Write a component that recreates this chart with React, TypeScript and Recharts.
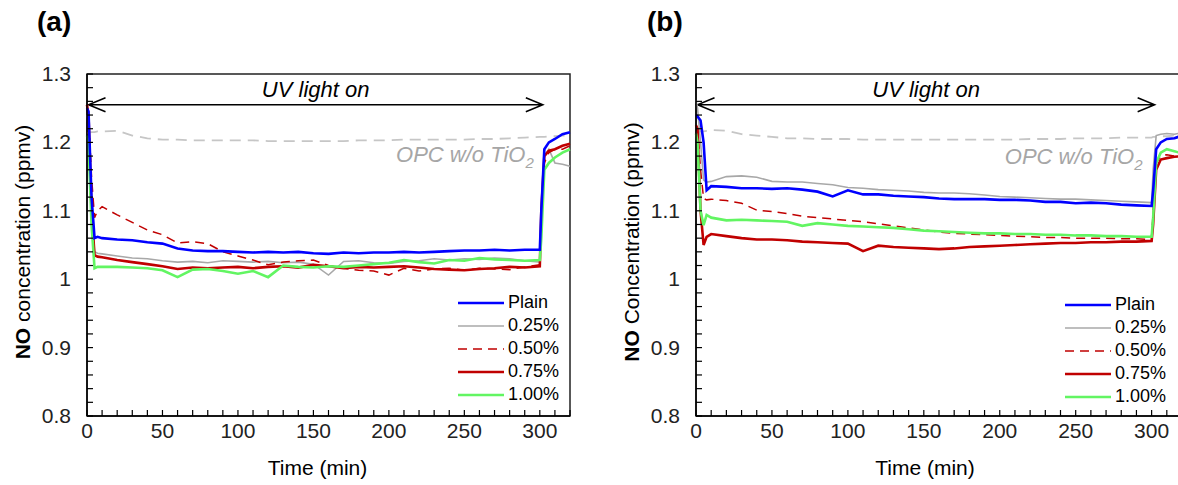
import React from "react";
import {
  LineChart,
  Line,
  XAxis,
  YAxis,
  ReferenceLine,
  ReferenceArea,
  ReferenceDot,
  Legend,
} from "recharts";

const FONT = "Arial, 'Liberation Sans', Helvetica, sans-serif";

// elapsed time (min)
const time = [
  0, 1, 3, 5, 7, 10, 20, 30, 40, 50, 60, 70, 80, 90, 100, 110, 120, 130, 140, 150, 160,
  170, 180, 190, 200, 210, 220, 230, 240, 250, 260, 270, 280, 290, 300, 301, 303, 306,
  310, 315, 320,
];

// panel (a), NO concentration (ppmv)
const plainA = [
  1.25, 1.245, 1.12, 1.06, 1.062, 1.06, 1.058, 1.057, 1.054, 1.052, 1.045, 1.042, 1.041,
  1.041, 1.04, 1.039, 1.04, 1.039, 1.04, 1.038, 1.037, 1.039, 1.038, 1.039, 1.039, 1.04,
  1.039, 1.04, 1.041, 1.042, 1.042, 1.043, 1.042, 1.043, 1.043, 1.1, 1.19, 1.2, 1.205,
  1.212, 1.215,
];
const p25A = [
  1.24, 1.22, 1.1, 1.04, 1.038, 1.037, 1.034, 1.031, 1.03, 1.027, 1.025, 1.026, 1.024,
  1.027, 1.026, 1.025, 1.026, 1.024, 1.025, 1.022, 1.006, 1.026, 1.027, 1.024, 1.023,
  1.026, 1.027, 1.03, 1.028, 1.03, 1.029, 1.031, 1.03, 1.027, 1.025, 1.09, 1.18, 1.19,
  1.17, 1.168, 1.165,
];
const p50A = [
  1.25, 1.24, 1.15, 1.09, 1.1, 1.106, 1.094, 1.083, 1.072, 1.065, 1.053, 1.055, 1.052,
  1.04, 1.034, 1.028, 1.021, 1.025, 1.027, 1.028, 1.02, 1.016, 1.013, 1.012, 1.006, 1.016,
  1.012, 1.015, 1.016, 1.013, 1.016, 1.015, 1.014, 1.018, 1.021, 1.08, 1.17, 1.185, 1.19,
  1.19, 1.195,
];
const p75A = [
  1.255, 1.24, 1.1, 1.035, 1.033, 1.032, 1.028, 1.025, 1.022, 1.019, 1.015, 1.017, 1.016,
  1.017, 1.018, 1.016, 1.018, 1.019, 1.017, 1.021, 1.019, 1.016, 1.018, 1.017, 1.018,
  1.019, 1.017, 1.015, 1.014, 1.013, 1.015, 1.016, 1.018, 1.017, 1.019, 1.1, 1.18, 1.188,
  1.19, 1.195, 1.198,
];
const p100A = [
  1.21, 1.2, 1.08, 1.016, 1.018, 1.018, 1.018, 1.017, 1.016, 1.013, 1.003, 1.014, 1.015,
  1.012, 1.008, 1.012, 1.003, 1.02, 1.018, 1.017, 1.019, 1.018, 1.02, 1.022, 1.024, 1.028,
  1.025, 1.023, 1.028, 1.027, 1.031, 1.029, 1.028, 1.027, 1.028, 1.06, 1.16, 1.17, 1.178,
  1.185, 1.19,
];
const opcA = [
  1.214, 1.214, 1.215, 1.215, 1.216, 1.216, 1.217, 1.21, 1.206, 1.204, 1.204, 1.203,
  1.203, 1.203, 1.203, 1.203, 1.202, 1.202, 1.202, 1.202, 1.202, 1.202, 1.203, 1.203,
  1.203, 1.204, 1.204, 1.204, 1.204, 1.204, 1.205, 1.205, 1.206, 1.207, 1.208, 1.208,
  1.208, 1.209, 1.209, 1.21, 1.21,
];

// panel (b), NO concentration (ppmv)
const plainB = [
  1.24, 1.238, 1.232, 1.2, 1.13, 1.136, 1.135, 1.133, 1.133, 1.132, 1.133, 1.131, 1.128,
  1.121, 1.13, 1.124, 1.124, 1.122, 1.121, 1.12, 1.118, 1.117, 1.117, 1.117, 1.116, 1.116,
  1.115, 1.113, 1.113, 1.111, 1.112, 1.111, 1.109, 1.108, 1.107, 1.13, 1.19, 1.2, 1.205,
  1.206, 1.21,
];
const p25B = [
  1.262, 1.25, 1.2, 1.145, 1.142, 1.143, 1.15, 1.151, 1.149, 1.143, 1.142, 1.142, 1.14,
  1.138, 1.134, 1.133, 1.131, 1.13, 1.129, 1.127, 1.126, 1.126, 1.125, 1.123, 1.121, 1.12,
  1.119, 1.118, 1.117, 1.117, 1.116, 1.115, 1.114, 1.113, 1.112, 1.16, 1.21, 1.212, 1.213,
  1.212, 1.214,
];
const p50B = [
  1.225, 1.22, 1.16, 1.118, 1.116, 1.117, 1.115, 1.111, 1.101, 1.099, 1.096, 1.092, 1.09,
  1.088, 1.086, 1.084, 1.081, 1.078, 1.075, 1.072, 1.069, 1.067, 1.066, 1.065, 1.064,
  1.063, 1.062, 1.061, 1.061, 1.06, 1.06, 1.06, 1.059, 1.059, 1.058, 1.1, 1.17, 1.18,
  1.182, 1.18, 1.18,
];
const p75B = [
  1.225, 1.22, 1.1, 1.05, 1.062, 1.066, 1.063, 1.06, 1.058, 1.058, 1.057, 1.055, 1.054,
  1.053, 1.052, 1.041, 1.049, 1.047, 1.046, 1.045, 1.044, 1.045, 1.047, 1.048, 1.049,
  1.05, 1.051, 1.052, 1.053, 1.053, 1.054, 1.054, 1.055, 1.055, 1.056, 1.08, 1.16, 1.175,
  1.177, 1.179, 1.18,
];
const p100B = [
  1.213, 1.2, 1.1, 1.079, 1.094, 1.09, 1.086, 1.087, 1.086, 1.085, 1.084, 1.078, 1.082,
  1.08, 1.078, 1.077, 1.076, 1.075, 1.073, 1.071, 1.07, 1.069, 1.068, 1.067, 1.067, 1.066,
  1.066, 1.065, 1.065, 1.064, 1.064, 1.063, 1.063, 1.062, 1.062, 1.09, 1.17, 1.185, 1.19,
  1.187, 1.184,
];
const opcB = [
  1.215, 1.215, 1.216, 1.216, 1.217, 1.218, 1.217, 1.212, 1.21, 1.208, 1.206, 1.206,
  1.205, 1.205, 1.205, 1.204, 1.204, 1.204, 1.204, 1.204, 1.204, 1.204, 1.204, 1.204,
  1.204, 1.204, 1.205, 1.205, 1.205, 1.206, 1.206, 1.206, 1.207, 1.207, 1.207, 1.208,
  1.208, 1.209, 1.209, 1.21, 1.21,
];

const xTicks = [
  0, 10, 20, 30, 40, 50, 60, 70, 80, 90, 100, 110, 120, 130, 140, 150, 160, 170, 180, 190,
  200, 210, 220, 230, 240, 250, 260, 270, 280, 290, 300, 310, 320,
];
const xLabels = [0, 50, 100, 150, 200, 250, 300];
const yTicks = Array.from({ length: 26 }, (_, i) => +(0.8 + i * 0.02).toFixed(2));
const yLabels = [0.8, 0.9, 1, 1.1, 1.2, 1.3];

// UV on period (arrow)
const uvStart = 1;
const uvEnd = 302;
const uvLevel = 1.255;

const SERIES = [
  { key: "opc", name: "OPC w/o TiO2", color: "#c6c6c6", width: 1.8, dash: "11 7" },
  { key: "p25", name: "0.25%", color: "#a8a8a8", width: 1.6 },
  { key: "p50", name: "0.50%", color: "#c00000", width: 1.5, dash: "9 6" },
  { key: "p75", name: "0.75%", color: "#c00000", width: 2.6 },
  { key: "p100", name: "1.00%", color: "#62f562", width: 2.6 },
  { key: "plain", name: "Plain", color: "#0000ff", width: 2.6 },
];
const LEGEND_KEYS = ["plain", "p25", "p50", "p75", "p100"];

function rows(plain: number[], p25: number[], p50: number[], p75: number[], p100: number[], opc: number[]) {
  return time.map((t, i) => ({
    t,
    plain: plain[i],
    p25: p25[i],
    p50: p50[i],
    p75: p75[i],
    p100: p100[i],
    opc: opc[i],
  }));
}

const dataA = rows(plainA, p25A, p50A, p75A, p100A, opcA);
const dataB = rows(plainB, p25B, p50B, p75B, p100B, opcB);

function XTick(props: any) {
  const { x, y, payload } = props;
  const v = payload.value;
  return (
    <g>
      <line x1={x} x2={x} y1={y - 7} y2={y - 13} stroke="#000" strokeWidth={1.2} />
      {xLabels.includes(v) && (
        <text x={x} y={y} dy={15} textAnchor="middle" fontSize={21} fontFamily={FONT} fill="#222">
          {v}
        </text>
      )}
    </g>
  );
}

function YTick(props: any) {
  const { x, y, payload } = props;
  const v = payload.value;
  return (
    <g>
      <line x1={x + 16} x2={x + 22} y1={y} y2={y} stroke="#000" strokeWidth={1.2} />
      {yLabels.some((l) => Math.abs(l - v) < 1e-6) && (
        <text x={x} y={y} dy={7} textAnchor="end" fontSize={21} fontFamily={FONT} fill="#222">
          {String(v)}
        </text>
      )}
    </g>
  );
}

function UvArrow(props: any) {
  const { x1, y1, x2, y2 } = props;
  return (
    <g>
      <path
        d={`M${x1},${y1}L${x2},${y2}M${x1 + 17},${y1 - 7}L${x1},${y1}L${x1 + 17},${y1 + 7}M${x2 - 17},${y2 - 7}L${x2},${y2}L${x2 - 17},${y2 + 7}`}
        stroke="#000"
        strokeWidth={1.5}
        fill="none"
      />
      <text x={(x1 + x2) / 2} y={y1 - 8} textAnchor="middle" fontSize={22} fontStyle="italic" fontFamily={FONT} fill="#000">
        UV light on
      </text>
    </g>
  );
}

function renderLegend() {
  return (
    <div style={{ fontFamily: FONT, fontSize: 18, color: "#000" }}>
      {LEGEND_KEYS.map((k) => {
        const s = SERIES.find((d) => d.key === k)!;
        return (
          <div key={k} style={{ display: "flex", alignItems: "center", height: 23 }}>
            <svg width={46} height={10}>
              <line x1={0} x2={46} y1={5} y2={5} stroke={s.color} strokeWidth={s.width} strokeDasharray={s.dash} />
            </svg>
            <span style={{ marginLeft: 4 }}>{s.name}</span>
          </div>
        );
      })}
    </div>
  );
}

type PanelProps = {
  data: any[];
  width: number;
  rightMargin: number;
  word: string;
  legendLeft: number;
  legendTop: number;
  opcX: number;
  opcY: number;
  xTitleShift: number;
};

function Panel({ data, width, rightMargin, word, legendLeft, legendTop, opcX, opcY, xTitleShift }: PanelProps) {
  return (
    <LineChart width={width} height={485} data={data} margin={{ top: 74, right: rightMargin, bottom: 19, left: 0 }}>
      <XAxis
        dataKey="t"
        type="number"
        domain={[0, 320]}
        ticks={xTicks}
        interval={0}
        tickSize={0}
        tickMargin={7}
        tick={<XTick />}
        height={50}
        axisLine={{ stroke: "#000", strokeWidth: 1.5 }}
        label={(p: any) => {
          const vb = p.viewBox;
          return (
            <text x={vb.x + vb.width / 2 + xTitleShift} y={vb.y + 59} textAnchor="middle" fontSize={21} fontFamily={FONT} fill="#000">
              Time (min)
            </text>
          );
        }}
      />
      <YAxis
        type="number"
        domain={[0.8, 1.3]}
        ticks={yTicks}
        interval={0}
        width={87}
        tickSize={0}
        tickMargin={16}
        tick={<YTick />}
        axisLine={{ stroke: "#000", strokeWidth: 1.5 }}
        label={(p: any) => {
          const vb = p.viewBox;
          const cx = vb.x + 22;
          const cy = vb.y + vb.height / 2 - 3;
          return (
            <text x={cx} y={cy} transform={`rotate(-90 ${cx} ${cy})`} textAnchor="middle" dominantBaseline="central" fontSize={21} fontFamily={FONT} fill="#000">
              <tspan fontWeight="bold">NO</tspan>
              {" " + word + " (ppmv)"}
            </text>
          );
        }}
      />
      <ReferenceArea x1={0} x2={320} y1={0.8} y2={1.3} fill="none" fillOpacity={0} stroke="#222" strokeWidth={1.5} />
      <ReferenceLine
        segment={[
          { x: uvStart, y: uvLevel },
          { x: uvEnd, y: uvLevel },
        ]}
        ifOverflow="visible"
        shape={(p: any) => <UvArrow {...p} />}
      />
      <ReferenceDot
        x={opcX}
        y={opcY}
        r={0}
        ifOverflow="visible"
        shape={(p: any) => (
          <text x={p.cx} y={p.cy} textAnchor="end" fontSize={22} fontStyle="italic" fontFamily={FONT} fill="#a6a6a6">
            OPC w/o TiO<tspan dy={6} fontSize={15}>2</tspan>
          </text>
        )}
      />
      {SERIES.map((s) => (
        <Line
          key={s.key}
          dataKey={s.key}
          name={s.name}
          type="linear"
          stroke={s.color}
          strokeWidth={s.width}
          strokeDasharray={s.dash}
          dot={false}
          activeDot={false}
          legendType={s.key === "opc" ? "none" : "line"}
          isAnimationActive={false}
        />
      ))}
      <Legend
        layout="vertical"
        align="center"
        verticalAlign="middle"
        content={renderLegend}
        wrapperStyle={{ left: legendLeft, top: legendTop, width: 130 }}
      />
    </LineChart>
  );
}

const titleStyle: React.CSSProperties = {
  position: "absolute",
  top: 6,
  fontFamily: FONT,
  fontWeight: "bold",
  fontSize: 28,
  lineHeight: "32px",
  color: "#000",
};

export default function App() {
  return (
    <div style={{ position: "absolute", left: 0, top: 0, width: 1178, height: 485, background: "#fff", overflow: "hidden" }}>
      <div style={{ position: "absolute", left: 0, top: 0 }}>
        <Panel data={dataA} width={590} rightMargin={20} word="concentration" legendLeft={458} legendTop={291} opcX={296} opcY={1.171} xTitleShift={-11} />
      </div>
      <div style={{ position: "absolute", left: 609, top: 0, width: 569, height: 485, overflow: "hidden" }}>
        <Panel data={dataB} width={583} rightMargin={10} word="Concentration" legendLeft={456} legendTop={293} opcX={294} opcY={1.168} xTitleShift={-14} />
      </div>
      <div style={{ ...titleStyle, left: 37 }}>(a)</div>
      <div style={{ ...titleStyle, left: 647 }}>(b)</div>
    </div>
  );
}
